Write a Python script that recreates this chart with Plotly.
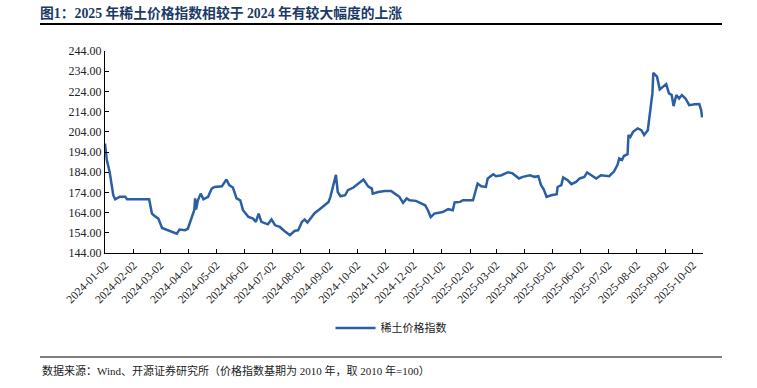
import plotly.graph_objects as go

dates = [
    "2024-01-02", "2024-01-03", "2024-01-04", "2024-01-07", "2024-01-11", "2024-01-13",
    "2024-01-18", "2024-01-24", "2024-01-26", "2024-02-19", "2024-02-22", "2024-02-25",
    "2024-02-29", "2024-03-04", "2024-03-09", "2024-03-14", "2024-03-20", "2024-03-23",
    "2024-03-29", "2024-04-01", "2024-04-05", "2024-04-08", "2024-04-09", "2024-04-10",
    "2024-04-12", "2024-04-15", "2024-04-18", "2024-04-23", "2024-04-27", "2024-04-30",
    "2024-05-08", "2024-05-13", "2024-05-16", "2024-05-20", "2024-05-24", "2024-05-28",
    "2024-05-31", "2024-06-06", "2024-06-11", "2024-06-14", "2024-06-17", "2024-06-20",
    "2024-06-27", "2024-07-01", "2024-07-05", "2024-07-10", "2024-07-15", "2024-07-21",
    "2024-07-26", "2024-07-30", "2024-08-03", "2024-08-06", "2024-08-09", "2024-08-13",
    "2024-08-17", "2024-08-22", "2024-08-28", "2024-09-01", "2024-09-03", "2024-09-06",
    "2024-09-09", "2024-09-11", "2024-09-14", "2024-09-19", "2024-09-22", "2024-09-28",
    "2024-10-03", "2024-10-09", "2024-10-14", "2024-10-18", "2024-10-19", "2024-10-25",
    "2024-11-01", "2024-11-08", "2024-11-12", "2024-11-17", "2024-11-21", "2024-11-25",
    "2024-11-28", "2024-12-05", "2024-12-15", "2024-12-18", "2024-12-21", "2024-12-25",
    "2025-01-03", "2025-01-09", "2025-01-14", "2025-01-16", "2025-01-22", "2025-01-25",
    "2025-02-05", "2025-02-10", "2025-02-14", "2025-02-19", "2025-02-21", "2025-02-27",
    "2025-03-02", "2025-03-08", "2025-03-15", "2025-03-20", "2025-03-27", "2025-03-31",
    "2025-04-08", "2025-04-13", "2025-04-17", "2025-04-20", "2025-04-23", "2025-04-26",
    "2025-05-01", "2025-05-07", "2025-05-08", "2025-05-12", "2025-05-14", "2025-05-19",
    "2025-05-23", "2025-05-28", "2025-06-01", "2025-06-06", "2025-06-09", "2025-06-14",
    "2025-06-19", "2025-06-24", "2025-07-03", "2025-07-08", "2025-07-12", "2025-07-14",
    "2025-07-17", "2025-07-19", "2025-07-23", "2025-07-24", "2025-07-26", "2025-07-29",
    "2025-08-03", "2025-08-07", "2025-08-10", "2025-08-14", "2025-08-17", "2025-08-19",
    "2025-08-20", "2025-08-22", "2025-08-24", "2025-08-27", "2025-08-30", "2025-09-03",
    "2025-09-06", "2025-09-09", "2025-09-11", "2025-09-14", "2025-09-17", "2025-09-20",
    "2025-09-24", "2025-09-28", "2025-10-04", "2025-10-09", "2025-10-11", "2025-10-12",
]

index_values = [
    198.2, 194.0, 190.0, 184.2, 172.6, 170.6,
    171.8, 171.8, 170.6, 170.6, 163.5, 162.3,
    161.0, 156.4, 155.6, 154.8, 153.6, 155.6,
    155.3, 156.0, 161.0, 165.2, 171.0, 165.5,
    170.1, 173.4, 170.6, 171.8, 175.9, 176.7,
    177.0, 180.4, 177.6, 176.4, 171.0, 170.1,
    165.2, 161.8, 161.0, 159.4, 163.5, 159.4,
    158.2, 160.6, 157.7, 156.9, 154.9, 152.8,
    154.9, 155.3, 159.4, 160.6, 159.1, 161.5,
    163.8, 165.5, 167.6, 169.3, 171.8, 176.7,
    182.7, 174.2, 172.1, 172.6, 175.1, 176.4,
    178.1, 180.4, 177.0, 175.9, 173.4, 174.2,
    174.7, 174.7, 173.4, 171.8, 168.8, 171.0,
    170.1, 169.8, 167.6, 165.2, 161.8, 163.5,
    164.3, 165.7, 165.2, 169.0, 169.3, 170.1,
    170.1, 178.4, 177.0, 176.7, 180.9, 183.0,
    182.0, 182.5, 184.0, 183.4, 180.9, 181.7,
    182.5, 181.7, 182.0, 177.6, 175.4, 171.8,
    172.6, 173.1, 176.7, 177.6, 181.4, 180.0,
    178.1, 179.2, 180.9, 181.7, 183.9, 182.5,
    180.9, 182.5, 182.0, 184.2, 187.5, 190.8,
    190.0, 192.0, 192.9, 202.4, 201.5, 204.0,
    205.7, 204.8, 202.4, 204.8, 214.7, 223.0,
    233.2, 232.1, 231.3, 225.0, 226.3, 227.6,
    223.0, 222.2, 216.7, 222.2, 220.5, 222.2,
    220.5, 217.2, 217.6, 217.7, 214.7, 211.1,
]

tick_dates = [
    "2024-01-02", "2024-02-02", "2024-03-02", "2024-04-02", "2024-05-02", "2024-06-02",
    "2024-07-02", "2024-08-02", "2024-09-02", "2024-10-02", "2024-11-02", "2024-12-02",
    "2025-01-02", "2025-02-02", "2025-03-02", "2025-04-02", "2025-05-02", "2025-06-02",
    "2025-07-02", "2025-08-02", "2025-09-02", "2025-10-02",
]
tick_labels = list(tick_dates)

series_name = "稀土价格指数"
title_text = "图1：2025 年稀土价格指数相较于 2024 年有较大幅度的上涨"
source_text = "数据来源：Wind、开源证券研究所（价格指数基期为 2010 年，取 2010 年=100）"

SERIF = "Times New Roman, Liberation Serif, Noto Sans CJK SC, serif"

W, H = 757, 388
L, R, T, B = 105, 54, 51, 135
pw = W - L - R
ph = H - T - B


def px_x(x):
    return (x - L) / pw


def px_y(y):
    return (H - B - y) / ph


fig = go.Figure()
fig.add_trace(go.Scatter(
    x=dates, y=index_values, mode="lines", name=series_name,
    line=dict(color="#2B5FA3", width=2.5),
))

fig.update_layout(
    width=W, height=H,
    margin=dict(l=L, r=R, t=T, b=B),
    paper_bgcolor="white", plot_bgcolor="white",
    showlegend=True,
    legend=dict(orientation="h", x=px_x(391), xanchor="center",
                y=px_y(328), yanchor="middle",
                font=dict(family=SERIF, size=11, color="#222222"),
                itemwidth=40),
    title=dict(text="<b>" + title_text + "</b>", xref="container", yref="container",
               x=40 / W, xanchor="left", y=1 - 13 / H, yanchor="middle",
               font=dict(family=SERIF, size=13.8, color="#1B3A66")),
    xaxis=dict(
        type="date", range=["2024-01-02", "2025-10-13"],
        tickmode="array", tickvals=tick_dates, ticktext=tick_labels,
        tickangle=-45, ticks="inside", ticklen=4, tickcolor="black",
        showline=True, linecolor="black", linewidth=1, showgrid=False, zeroline=False,
        tickfont=dict(family=SERIF, size=11.5, color="#222222"),
        automargin=False,
    ),
    yaxis=dict(
        range=[144, 244], dtick=10, tick0=144, tickformat=".2f",
        ticks="inside", ticklen=4, tickcolor="black",
        showline=True, linecolor="black", linewidth=1, showgrid=False, zeroline=False,
        tickfont=dict(family=SERIF, size=12, color="#222222"),
        automargin=False,
    ),
    shapes=[
        dict(type="line", xref="paper", yref="paper", x0=px_x(40), x1=px_x(722),
             y0=px_y(24), y1=px_y(24), line=dict(color="black", width=2)),
        dict(type="line", xref="paper", yref="paper", x0=px_x(40), x1=px_x(722),
             y0=px_y(357), y1=px_y(357), line=dict(color="black", width=1)),
    ],
    annotations=[
        dict(text=source_text, xref="paper", yref="paper", x=px_x(40), y=px_y(370),
             xanchor="left", yanchor="middle", showarrow=False,
             font=dict(family=SERIF, size=11, color="#222222")),
    ],
)

fig.write_html("out.html", config={"displayModeBar": False},
               post_script="document.body.style.margin='0';document.body.style.padding='0';")
